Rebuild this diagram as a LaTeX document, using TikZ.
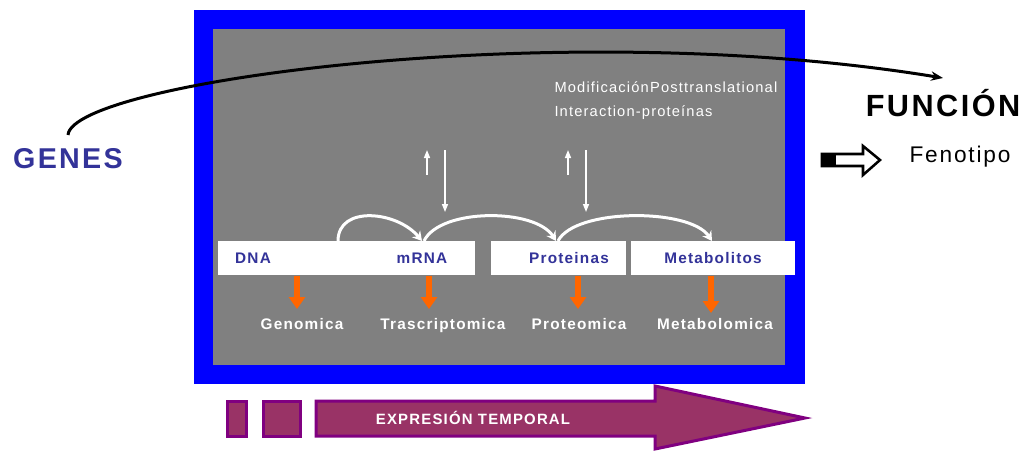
\documentclass[tikz,border=0pt]{standalone}
\usepackage{fontspec}
\setmainfont{Liberation Sans}[LetterSpace=8]
\usetikzlibrary{arrows.meta}

\definecolor{frameblue}{RGB}{0,0,255}
\definecolor{panelgray}{RGB}{128,128,128}
\definecolor{geneblue}{RGB}{51,51,153}
\definecolor{omicsorange}{RGB}{255,102,0}
\definecolor{timefill}{RGB}{153,51,102}
\definecolor{timeline}{RGB}{128,0,128}

\tikzset{every picture/.style={line width=0.75pt}}
\tikzset{
  boxlabel/.style={font=\fontsize{11.5}{13}\selectfont\bfseries, text=geneblue, inner sep=0.75pt, anchor=base},
  omicslabel/.style={font=\fontsize{11.5}{13}\selectfont\bfseries, text=white, inner sep=0.75pt, anchor=base},
  notelabel/.style={font=\fontsize{11}{13}\selectfont, text=white, inner sep=0.75pt, anchor=west},
  whitebox/.style={fill=white, inner sep=0pt, minimum height=25.5pt},
  omicsarrow/.style={draw=omicsorange, line width=4.5pt, -{Triangle[width=12pt,length=9pt]}},
  flowarrow/.style={draw=white, line width=2.25pt, -{Stealth[width=8pt,length=7pt]}},
  thinarrow/.style={draw=white, line width=1.1pt, -{Triangle[width=4.5pt,length=6pt]}},
  timebox/.style={fill=timefill, draw=timeline, line width=2.25pt},
}

\begin{document}
\begin{tikzpicture}[x=0.75pt,y=0.75pt,yscale=-1,xscale=1]
\useasboundingbox (0,0) rectangle (1031,450);

% Frame
\fill[frameblue] (194,10) rectangle (805,384);
\fill[panelgray] (213,29) rectangle (785,365);

% Boxes
\node[whitebox, minimum width=117.75pt] (dnabox) at (296.5,258) {};
\node[whitebox, minimum width=75.75pt] (mrnabox) at (424.5,258) {};
\node[whitebox, minimum width=101.25pt] (protbox) at (558.5,258) {};
\node[whitebox, minimum width=123pt] (metabox) at (713,258) {};
\node[boxlabel] (dnalab) at (253,263) {DNA};
\node[boxlabel] (mrnalab) at (422,263) {mRNA};
\node[boxlabel] (protlab) at (569,263) {Proteinas};
\node[boxlabel] (metalab) at (713,263) {Metabolitos};

% Omics
\node[omicslabel] (genomica) at (302,329) {Genomica};
\node[omicslabel] (transcr) at (443,329) {Trascriptomica};
\node[omicslabel] (proteo) at (579,329) {Proteomica};
\node[omicslabel] (metabo) at (715,329) {Metabolomica};
\coordinate (tipgen) at (297,309);
\coordinate (tiptra) at (429,309);
\coordinate (tippro) at (578,309);
\coordinate (tipmet) at (711,313);
\draw[omicsarrow] (tipgen |- dnabox.south) -- (tipgen);
\draw[omicsarrow] (tiptra |- mrnabox.south) -- (tiptra);
\draw[omicsarrow] (tippro |- protbox.south) -- (tippro);
\draw[omicsarrow] (tipmet |- metabox.south) -- (tipmet);

% Flow
\coordinate (fdna) at (338,241);
\coordinate (fmrna) at (422,241);
\coordinate (fmrnb) at (424,241);
\coordinate (fprot) at (556,241);
\coordinate (fprob) at (558,241);
\coordinate (fmeta) at (712,241);
\draw[flowarrow] (fdna) .. controls +(0,-36) and +(-25,-30) .. (fmrna);
\draw[flowarrow] (fmrnb) .. controls +(16,-33) and +(-21,-33) .. (fprot);
\draw[flowarrow] (fprob) .. controls +(17,-33) and +(-22,-33) .. (fmeta);

% Regulation
\coordinate (upa) at (427,175);
\coordinate (upb) at (427,150);
\coordinate (downa) at (445,150);
\coordinate (downb) at (445,212);
\coordinate (upc) at (568,175);
\coordinate (upd) at (568,150);
\coordinate (downc) at (586,150);
\coordinate (downd) at (586,212);
\draw[thinarrow] (upa) -- (upb);
\draw[thinarrow] (downa) -- (downb);
\draw[thinarrow] (upc) -- (upd);
\draw[thinarrow] (downc) -- (downd);
\node[notelabel] (postlab) at (553,87) {ModificaciónPosttranslational};
\node[notelabel] (interlab) at (553,113) {Interaction-proteínas};

% Genes to function
\node[font=\fontsize{21.5}{25}\selectfont\bfseries, text=geneblue, inner sep=0.75pt] (genes) at (68,159) {GENES};
\node[font=\fontsize{23}{27}\selectfont\bfseries, inner sep=0.75pt] (funcion) at (943,103) {FUNCIÓN};
\node[font=\fontsize{17}{20}\selectfont, inner sep=0.75pt] (fenotipo) at (960,157) {Fenotipo};
\coordinate (cstart) at (68,135);
\coordinate (cend) at (943,78);
\draw[line width=2.25pt, -{Stealth[width=7pt,length=9pt]}] (cstart) .. controls (72,82) and (560,15) .. (cend);

% Block arrow
\draw[line width=1.9pt, fill=white] (822,154) -- (863,154) -- (863,146) -- (880,160) -- (863,175) -- (863,166) -- (822,166) -- cycle;
\fill[black] (822,154) rectangle (836,166);

% Time
\draw[timebox] (227,401) rectangle (246,436);
\draw[timebox] (263,401) rectangle (300,436);
\draw[timebox] (316,401) -- (655,401) -- (655,386) -- (805,418) -- (655,449) -- (655,436) -- (316,436) -- cycle;
\node[font=\fontsize{11.2}{13}\selectfont\bfseries, text=white, inner sep=0.75pt] (tiempo) at (473,418) {EXPRESIÓN TEMPORAL};

\end{tikzpicture}
\end{document}
